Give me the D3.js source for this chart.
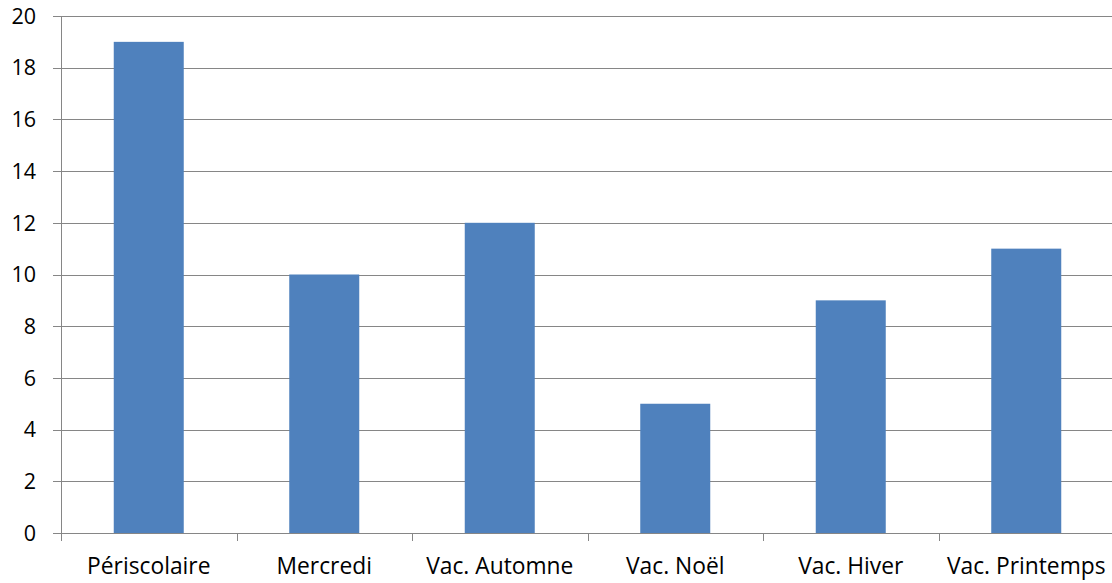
<!DOCTYPE html>
<html><head><meta charset="utf-8">
<script src="https://cdn.jsdelivr.net/npm/d3@7"></script>
<style>body{margin:0;background:#fff;} svg{display:block;} text{font-family:"Open Sans",sans-serif;fill:#000;}</style>
</head><body><svg id="c" width="1112" height="583"></svg>
<script>
const categories = ["Périscolaire","Mercredi","Vac. Automne","Vac. Noël","Vac. Hiver","Vac. Printemps"];
const values = [19,10,12,5,9,11];
const yTicks = [0,2,4,6,8,10,12,14,16,18,20];

const svg = d3.select("#c");
const mLeft = 61, mRight = 1114, mTop = 16, mBottom = 533;
const xb = d3.scaleBand().domain(categories).range([mLeft,mRight]);
const y = d3.scaleLinear().domain([0,20]).range([mBottom,mTop]);

// gridlines
svg.append("g").selectAll("line").data(yTicks).join("line")
  .attr("x1",mLeft-8).attr("x2",mRight).attr("y1",d=>Math.round(y(d))+0.5).attr("y2",d=>Math.round(y(d))+0.5)
  .attr("stroke","#868686").attr("stroke-width",1);
svg.append("g").selectAll("text").data(yTicks).join("text")
  .attr("x",36).attr("y",d=>y(d)).attr("dy","0.36em").attr("text-anchor","end")
  .attr("font-size",21.5).text(d=>d);

// bars
svg.append("g").selectAll("rect").data(values).join("rect")
  .attr("x",(d,i)=>xb(categories[i])+xb.bandwidth()/2-35)
  .attr("width",70)
  .attr("y",d=>y(d)).attr("height",d=>mBottom-y(d))
  .attr("fill","#4F81BD");

// y axis line
svg.append("line").attr("x1",mLeft+0.5).attr("x2",mLeft+0.5).attr("y1",mTop).attr("y2",mBottom+8).attr("stroke","#868686");
// x ticks
const edges = categories.map(c=>xb(c)).concat([mRight]);
svg.append("g").selectAll("line").data(edges.slice(1,6)).join("line")
  .attr("x1",d=>Math.round(d)+0.5).attr("x2",d=>Math.round(d)+0.5).attr("y1",mBottom).attr("y2",mBottom+8).attr("stroke","#868686");
svg.append("g").selectAll("text").data(categories).join("text")
  .attr("x",d=>xb(d)+xb.bandwidth()/2).attr("y",574).attr("text-anchor","middle")
  .attr("font-size",22.8).text(d=>d);
</script></body></html>
